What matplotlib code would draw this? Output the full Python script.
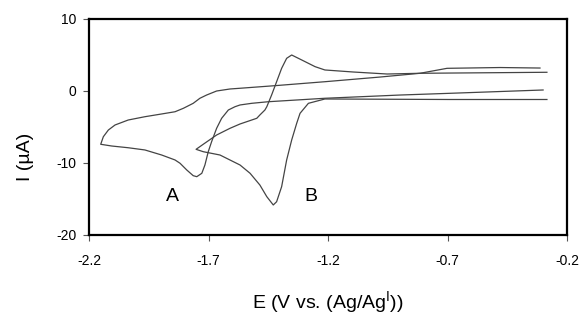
import matplotlib
matplotlib.use("Agg")
import matplotlib.pyplot as plt

plt.rcParams['font.family'] = ['Liberation Sans', 'DejaVu Sans']
plt.rcParams['mathtext.fontset'] = 'custom'
plt.rcParams['mathtext.rm'] = 'Liberation Sans'

# Curve A (E in V, I in uA): lower branch right->left, then upper branch left->right
a_E = [-0.300, -0.690, -0.899, -1.213, -1.450, -1.519, -1.568, -1.589, -1.617, -1.645,
       -1.666, -1.687, -1.701, -1.715, -1.728, -1.749, -1.764, -1.791, -1.819, -1.840,
       -1.896, -1.966, -2.036, -2.105, -2.151,
       -2.140, -2.119, -2.091, -2.036, -1.966, -1.896, -1.840, -1.805, -1.764, -1.736,
       -1.708, -1.666, -1.610, -1.568, -1.422, -1.213, -0.982, -0.815, -0.702, -0.480,
       -0.313]
a_I = [0.14, -0.32, -0.56, -1.01, -1.49, -1.71, -1.94, -2.18, -2.64, -3.79,
       -5.18, -7.04, -8.43, -10.28, -11.43, -11.90, -11.76, -10.97, -10.04, -9.58,
       -8.89, -8.19, -7.88, -7.64, -7.40,
       -6.35, -5.42, -4.72, -4.03, -3.57, -3.19, -2.88, -2.40, -1.71, -1.01,
       -0.56, 0.00, 0.28, 0.38, 0.74, 1.29, 1.94, 2.46, 3.15, 3.26,
       3.19]

# Curve B
b_E = [-0.284, -0.690, -1.213, -1.282, -1.317, -1.331, -1.352, -1.373, -1.394, -1.415,
       -1.429, -1.456, -1.485, -1.526, -1.568, -1.652, -1.722, -1.752,
       -1.722, -1.666, -1.610, -1.568, -1.498, -1.485, -1.464, -1.456, -1.436, -1.415,
       -1.394, -1.373, -1.352, -1.310, -1.254, -1.213, -1.095, -0.953, -0.815, -0.284]
b_I = [-1.18, -1.18, -1.11, -1.71, -3.10, -4.49, -6.81, -9.58, -13.29, -15.38,
       -15.83, -14.68, -13.06, -11.43, -10.28, -8.89, -8.43, -8.10,
       -7.40, -6.11, -5.18, -4.58, -3.79, -3.33, -2.64, -2.18, -0.56, 1.29,
       3.15, 4.54, 5.00, 4.31, 3.38, 2.92, 2.64, 2.36, 2.46, 2.60]

x_ticks = [-2.2, -1.7, -1.2, -0.7, -0.2]
y_ticks = [-20, -10, 0, 10]

fig = plt.figure(figsize=(5.83, 3.16), dpi=100)
ax = fig.add_axes([89/583, 1-235/316, (567-89)/583, (235-19)/316])

ax.plot(a_E, a_I, color='#444444', lw=0.9)
ax.plot(b_E, b_I, color='#444444', lw=0.9)

ax.text(-1.849, -14.6, 'A', fontsize=14, ha='center', va='center')
ax.text(-1.271, -14.6, 'B', fontsize=14, ha='center', va='center')

ax.set_xlim(-2.2, -0.2)
ax.set_ylim(-20, 10)
ax.set_xticks(x_ticks)
ax.set_xticklabels([f'{v:.1f}' for v in x_ticks])
ax.set_yticks(y_ticks)
ax.set_yticklabels([str(v) for v in y_ticks])
ax.tick_params(axis='both', direction='out', length=4, width=0.8, color='#555555', labelsize=10)
ax.tick_params(axis='x', pad=10)
ax.tick_params(axis='y', pad=5)
for s in ax.spines.values():
    s.set_linewidth(1.6)

ax.set_xlabel(r'E (V vs. (Ag/Ag$^{\mathrm{I}}$))', fontsize=14)
ax.xaxis.set_label_coords(0.5, -0.25)
ax.set_ylabel('I (µA)', fontsize=14)
ax.yaxis.set_label_coords(-0.115, 0.36)

fig.savefig('out.png', dpi=100)
